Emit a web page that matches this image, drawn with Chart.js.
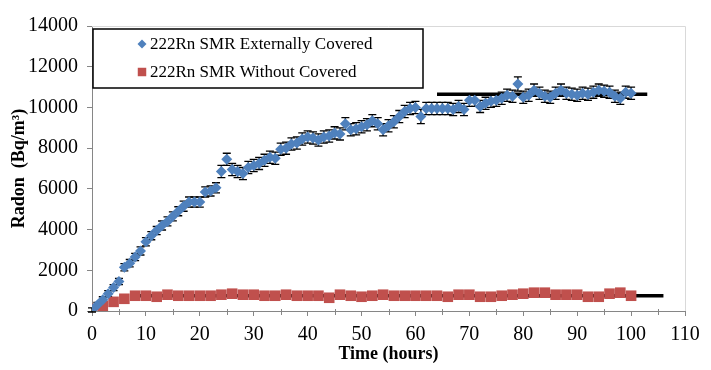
<!DOCTYPE html>
<html>
<head>
<meta charset="utf-8">
<script src="https://cdn.jsdelivr.net/npm/chart.js@4.4.0/dist/chart.umd.min.js"></script>
<style>
	html, body { margin: 0; padding: 0; background: #fff; }
	#wrap { width: 711px; height: 370px; }
</style>
</head>
<body>
<div id="wrap"><canvas id="mycanvas" width="711" height="370"></canvas></div>
<script>
// time in hours
var coveredHours = [0,1,2,3,4,5,6,7,8,9,10,11,12,13,14,15,16,17,18,19,20,21,22,23,24,25,26,27,28,29,30,31,32,33,34,35,36,37,38,39,40,41,42,43,44,45,46,47,48,49,50,51,52,53,54,55,56,57,58,59,60,61,62,63,64,65,66,67,68,69,70,71,72,73,74,75,76,77,78,79,80,81,82,83,84,85,86,87,88,89,90,91,92,93,94,95,96,97,98,99,100];
var coveredRadon = [50,300,550,850,1150,1450,2150,2350,2650,2950,3400,3700,3950,4200,4400,4650,4900,5150,5350,5350,5350,5850,5900,6050,6850,7450,6950,6850,6750,7050,7150,7250,7400,7550,7500,7950,8000,8200,8250,8450,8550,8500,8400,8550,8600,8750,8700,9200,8900,8950,9050,9150,9350,9200,8900,9100,9300,9550,9800,9950,10000,9550,9950,9950,9950,9950,9950,9900,10050,9900,10350,10350,10050,10200,10300,10350,10450,10600,10550,11150,10500,10600,10850,10700,10550,10500,10700,10850,10700,10650,10600,10700,10650,10750,10850,10800,10750,10550,10450,10750,10700];
var coveredError = [100,120,150,150,150,150,180,180,180,200,200,200,200,220,220,220,220,250,250,250,250,250,250,250,300,300,300,300,300,300,300,300,300,300,300,300,300,300,300,300,300,300,300,300,300,300,300,300,300,300,300,300,300,300,300,300,300,300,300,300,300,350,300,300,300,300,300,300,300,300,300,300,300,300,300,300,300,300,300,350,300,300,300,300,300,300,300,300,300,300,300,300,300,300,300,300,300,300,300,300,300];

var bareHours = [0,2,4,6,8,10,12,14,16,18,20,22,24,26,28,30,32,34,36,38,40,42,44,46,48,50,52,54,56,58,60,62,64,66,68,70,72,74,76,78,80,82,84,86,88,90,92,94,96,98,100];
var bareRadon = [100,250,450,600,750,750,700,800,750,750,750,750,800,850,800,800,750,750,800,750,750,750,650,800,750,700,750,800,750,750,750,750,750,700,800,800,700,700,750,800,850,900,900,800,800,800,700,700,850,900,750];

// steady-state lines
var coveredFitHours = [64, 103];
var coveredFitLevel = [10650, 10650];
var bareFitHours = [8, 106];
var bareFitLevel = [750, 750];

var seriesLabels = ["222Rn SMR Externally Covered", "222Rn SMR Without Covered"];
var xTitle = "Time (hours)";
var yTitle = "Radon  (Bq/m\u00B3)";

var blue = "#4F81BD";
var red = "#C0504D";
var axisGrey = "#868686";
var serif = "'Liberation Serif', 'Times New Roman', serif";

function pairs(xs, ys) {
	var out = [];
	for (var i = 0; i < xs.length; i++) out.push({x: xs[i], y: ys[i]});
	return out;
}

var errorBars = {
	id: "errorBars",
	beforeDatasetsDraw: function(chart) {
		var ctx = chart.ctx;
		var xs = chart.scales.x, ys = chart.scales.y;
		ctx.save();
		ctx.strokeStyle = "#000";
		ctx.lineWidth = 1.3;
		for (var i = 0; i < coveredHours.length; i++) {
			var px = xs.getPixelForValue(coveredHours[i]);
			var top = ys.getPixelForValue(coveredRadon[i] + coveredError[i]);
			var bot = ys.getPixelForValue(coveredRadon[i] - coveredError[i]);
			ctx.beginPath();
			ctx.moveTo(px, top); ctx.lineTo(px, bot);
			ctx.moveTo(px - 4, top); ctx.lineTo(px + 4, top);
			ctx.moveTo(px - 4, bot); ctx.lineTo(px + 4, bot);
			ctx.stroke();
		}
		ctx.restore();
	}
};

var frame = {
	id: "frame",
	afterDraw: function(chart) {
		var ctx = chart.ctx;
		var a = chart.chartArea;
		var xs = chart.scales.x;
		ctx.save();
		// light border on top and right
		ctx.strokeStyle = "#d9d9d9";
		ctx.lineWidth = 1;
		ctx.beginPath();
		ctx.moveTo(a.left, a.top + 0.5); ctx.lineTo(a.right + 0.5, a.top + 0.5);
		ctx.lineTo(a.right + 0.5, a.bottom);
		ctx.stroke();
		// minor ticks on the time axis
		ctx.strokeStyle = axisGrey;
		ctx.beginPath();
		for (var v = 5; v < 110; v += 10) {
			var px = Math.round(xs.getPixelForValue(v)) + 0.5;
			ctx.moveTo(px, a.bottom - 2); ctx.lineTo(px, a.bottom + 4);
		}
		ctx.stroke();

		// legend box
		var lx = a.left + 1, ly = a.top + 3, lw = 330, lh = 59;
		ctx.fillStyle = "#fff";
		ctx.fillRect(lx, ly, lw, lh);
		ctx.strokeStyle = "#000";
		ctx.lineWidth = 1.5;
		ctx.strokeRect(lx, ly, lw, lh);
		ctx.font = "17px " + serif;
		ctx.textBaseline = "middle";
		ctx.fillStyle = "#000";
		var ds = chart.data.datasets;
		for (var i = 0; i < 2; i++) {
			var cy = ly + 15 + i * 28;
			ctx.fillStyle = ds[i].backgroundColor;
			Chart.helpers.drawPoint(ctx, {pointStyle: ds[i].pointStyle, radius: i === 0 ? 4.5 : 6, rotation: 0, borderWidth: 0}, lx + 49, cy);
			ctx.fillStyle = "#000";
			ctx.fillText(ds[i].label, lx + 57, cy + 1);
		}
		ctx.restore();
	}
};

var ctx = document.getElementById("mycanvas");

var chart = new Chart(ctx, {
	type: "scatter",
	data: {
		datasets: [
			{
				label: seriesLabels[0],
				data: pairs(coveredHours, coveredRadon),
				pointStyle: "rectRot",
				pointRadius: 5.5,
				backgroundColor: blue,
				borderColor: blue,
				borderWidth: 0
			},
			{
				label: seriesLabels[1],
				data: pairs(bareHours, bareRadon),
				pointStyle: "rect",
				pointRadius: 7.5,
				backgroundColor: red,
				borderColor: red,
				borderWidth: 0
			},
			{
				label: "fit covered",
				data: pairs(coveredFitHours, coveredFitLevel),
				showLine: true,
				pointRadius: 0,
				borderColor: "#000",
				borderWidth: 3.5
			},
			{
				label: "fit bare",
				data: pairs(bareFitHours, bareFitLevel),
				showLine: true,
				pointRadius: 0,
				borderColor: "#000",
				borderWidth: 3.5
			}
		]
	},
	options: {
		responsive: false,
		animation: false,
		layout: { padding: { top: 26, right: 26, bottom: 0, left: 0 } },
		plugins: {
			legend: { display: false },
			tooltip: { enabled: false }
		},
		scales: {
			x: {
				type: "linear",
				min: 0,
				max: 110,
				afterFit: function(s) { s.height = 59; },
				ticks: { stepSize: 10, color: "#000", padding: 7, maxRotation: 0, font: { family: serif, size: 20 } },
				grid: { drawOnChartArea: false, tickLength: 5, color: axisGrey },
				border: { color: axisGrey, width: 1 },
				title: { display: true, text: xTitle, color: "#000", padding: { top: 0, bottom: 5 }, font: { family: serif, size: 18, weight: "bold" } }
			},
			y: {
				min: 0,
				max: 14000,
				afterFit: function(s) { s.width = 92; },
				ticks: { stepSize: 2000, color: "#000", padding: 9, font: { family: serif, size: 20 },
					callback: function(v) { return String(v); } },
				grid: { drawOnChartArea: false, tickLength: 5, color: axisGrey },
				border: { color: axisGrey, width: 1 },
				title: { display: true, text: yTitle, color: "#000", padding: { top: 9, bottom: 0 }, font: { family: serif, size: 18, weight: "bold" } }
			}
		}
	},
	plugins: [errorBars, frame]
});
</script>
</body>
</html>
